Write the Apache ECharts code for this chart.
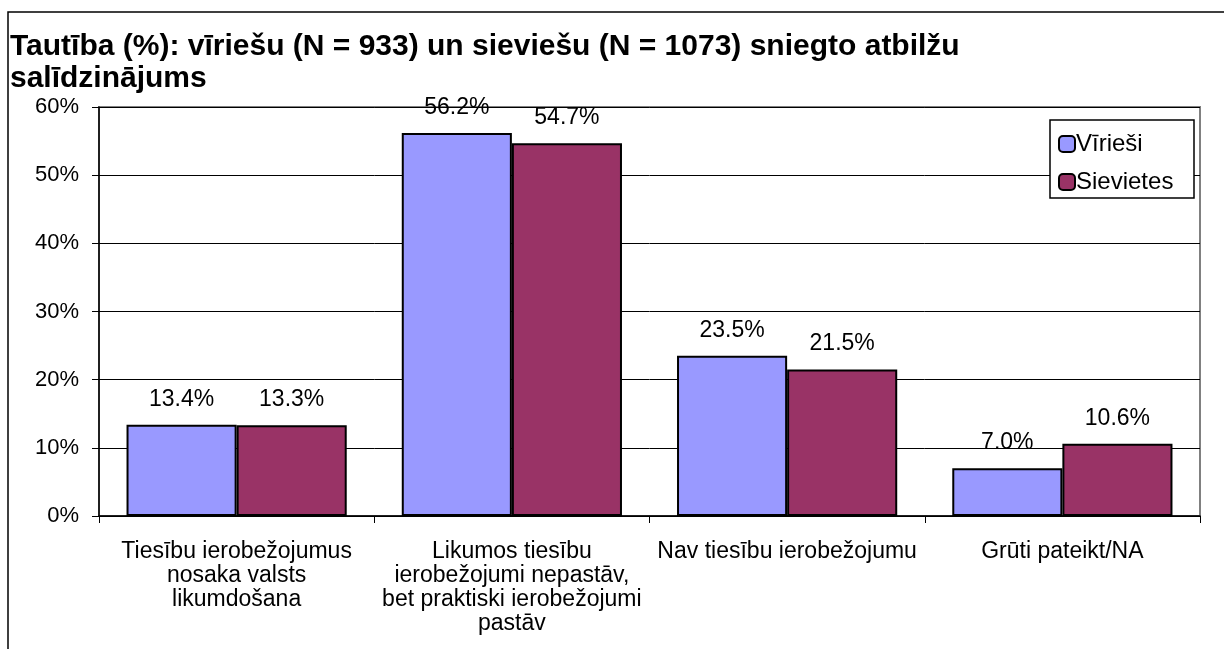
<!DOCTYPE html>
<html>
<head>
<meta charset="utf-8">
<script src="https://cdn.jsdelivr.net/npm/echarts@6/dist/echarts.min.js"></script>
<style>
html,body{margin:0;padding:0;background:#fff;}
#chart{width:1224px;height:649px;}
</style>
</head>
<body>
<div id="chart"></div>
<script>
const titleText = 'Tautība (%): vīriešu (N = 933) un sieviešu (N = 1073) sniegto atbilžu\nsalīdzinājums';
const categories = [
  'Tiesību ierobežojumus\nnosaka valsts\nlikumdošana',
  'Likumos tiesību\nierobežojumi nepastāv,\nbet praktiski ierobežojumi\npastāv',
  'Nav tiesību ierobežojumu',
  'Grūti pateikt/NA'
];
const seriesNames = ['Vīrieši', 'Sievietes'];
const men = [13.4, 56.2, 23.5, 7.0];
const women = [13.3, 54.7, 21.5, 10.6];
const yTicks = [0, 10, 20, 30, 40, 50, 60];

const chart = echarts.init(document.getElementById('chart'), null, {renderer: 'canvas'});
const font = 'Arial, "Liberation Sans", sans-serif';
const labelCfg = {
  show: true, position: 'top', distance: 14,
  fontFamily: font, fontSize: 23, color: '#000',
  formatter: p => p.value.toFixed(1) + '%'
};
chart.setOption({
  animation: false,
  backgroundColor: '#fff',
  title: {
    text: titleText, left: 5, top: 26,
    textStyle: {fontFamily: font, fontSize: 30, fontWeight: 'bold', color: '#000', lineHeight: 32}
  },
  graphic: [{
    type: 'rect', shape: {x: 8, y: 12, width: 1240, height: 660},
    style: {fill: 'none', stroke: '#000', lineWidth: 1.5}, z: 100, silent: true
  }, {
    type: 'rect', shape: {x: 1050, y: 120, width: 144, height: 78},
    style: {fill: '#fff', stroke: '#000', lineWidth: 1.5}, z: 50, silent: true
  }],
  legend: {
    orient: 'vertical', left: 1053, top: 127, itemGap: 14,
    itemWidth: 16, itemHeight: 16, z: 60,
    textStyle: {fontFamily: font, fontSize: 24, color: '#000', padding: [0,0,0,-4]},
    data: seriesNames.map(n => ({name: n, itemStyle: {borderColor: '#000', borderWidth: 2}}))
  },
  grid: {left: 99, right: 24, top: 107, bottom: 133, containLabel: false,
    show: true, borderColor: '#808080', borderWidth: 2},
  xAxis: {
    type: 'category', data: categories,
    axisLine: {lineStyle: {color: '#000', width: 1.5}},
    axisTick: {show: true, length: 7, lineStyle: {color: '#000'}},
    axisLabel: {fontFamily: font, fontSize: 23, color: '#000', lineHeight: 24, margin: 24, interval: 0}
  },
  yAxis: {
    type: 'value', min: yTicks[0], max: yTicks[yTicks.length-1], interval: 10,
    axisLine: {show: true, lineStyle: {color: '#000', width: 1.5}},
    axisTick: {show: true, length: 7, inside: false, lineStyle: {color: '#000'}},
    axisLabel: {fontFamily: font, fontSize: 22, color: '#000', margin: 20, formatter: '{value}%'},
    splitLine: {show: true, lineStyle: {color: '#000', width: 1}}
  },
  series: [
    {name: seriesNames[0], type: 'bar', data: men, barGap: '0%', barCategoryGap: '20%',
      itemStyle: {color: '#9999FF', borderColor: '#000', borderWidth: 2}, label: labelCfg},
    {name: seriesNames[1], type: 'bar', data: women, barGap: '0%', barCategoryGap: '20%',
      itemStyle: {color: '#993366', borderColor: '#000', borderWidth: 2}, label: labelCfg}
  ]
});
</script>
</body>
</html>
